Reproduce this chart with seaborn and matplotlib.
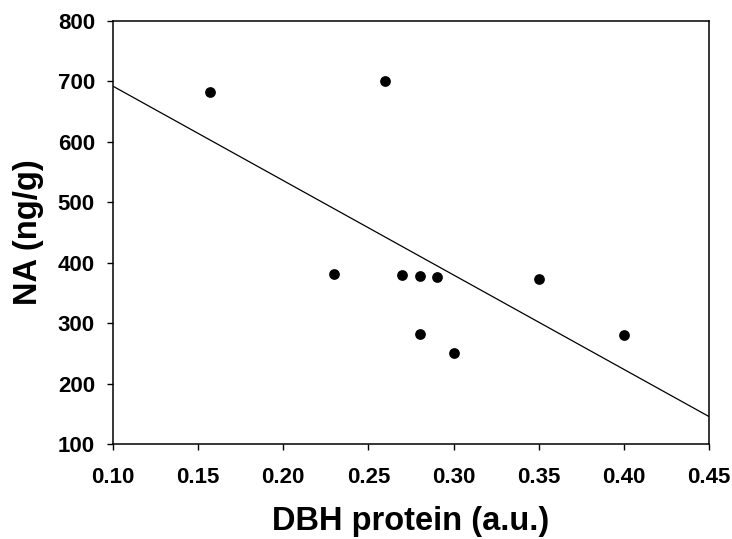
import numpy as np
import pandas as pd
import seaborn as sns
import matplotlib.pyplot as plt

# values
dbh_protein = [0.157, 0.23, 0.26, 0.27, 0.28, 0.28, 0.29, 0.30, 0.35, 0.40]
na_ng_g = [682, 381, 700, 380, 378, 282, 377, 250, 373, 280]
x_ticks = [0.10, 0.15, 0.20, 0.25, 0.30, 0.35, 0.40, 0.45]
y_ticks = [100, 200, 300, 400, 500, 600, 700, 800]

df = pd.DataFrame({"DBH": dbh_protein, "NA": na_ng_g})

sns.set_style("ticks")
plt.rcParams["font.family"] = ["Liberation Sans", "DejaVu Sans"]
plt.rcParams["text.color"] = "black"
plt.rcParams["axes.labelcolor"] = "black"

fig = plt.figure(figsize=(7.32, 5.39), dpi=100)
ax = fig.add_axes([113 / 732, 1 - 444 / 539, (709 - 113) / 732, (444 - 21) / 539])
ax.set_xlim(0.10, 0.45)
ax.set_ylim(100, 800)

# least-squares line drawn across the whole x range
sns.regplot(data=df, x="DBH", y="NA", ax=ax, ci=None, truncate=False,
            scatter_kws=dict(s=60, color="black", alpha=1, linewidths=0, zorder=3),
            line_kws=dict(color="black", lw=0.9))

ax.set_xlim(0.10, 0.45)
ax.set_ylim(100, 800)
ax.set_xticks(x_ticks)
ax.set_yticks(y_ticks)
ax.set_xticklabels([f"{t:.2f}" for t in x_ticks])
ax.set_yticklabels([str(t) for t in y_ticks])
for lab in ax.get_xticklabels() + ax.get_yticklabels():
    lab.set_fontweight("bold")
    lab.set_fontsize(16)
    lab.set_color("black")
ax.tick_params(direction="out", length=4.5, width=1, colors="black")
ax.tick_params(axis="x", pad=12)
ax.tick_params(axis="y", pad=8.5)
for s in ax.spines.values():
    s.set_linewidth(1.1)
    s.set_color("black")

ax.set_xlabel("DBH protein (a.u.)", fontsize=23.5, fontweight="bold", labelpad=13)
ax.set_ylabel("NA (ng/g)", fontsize=23.5, fontweight="bold", labelpad=10)

fig.savefig("out.png", dpi=100)
